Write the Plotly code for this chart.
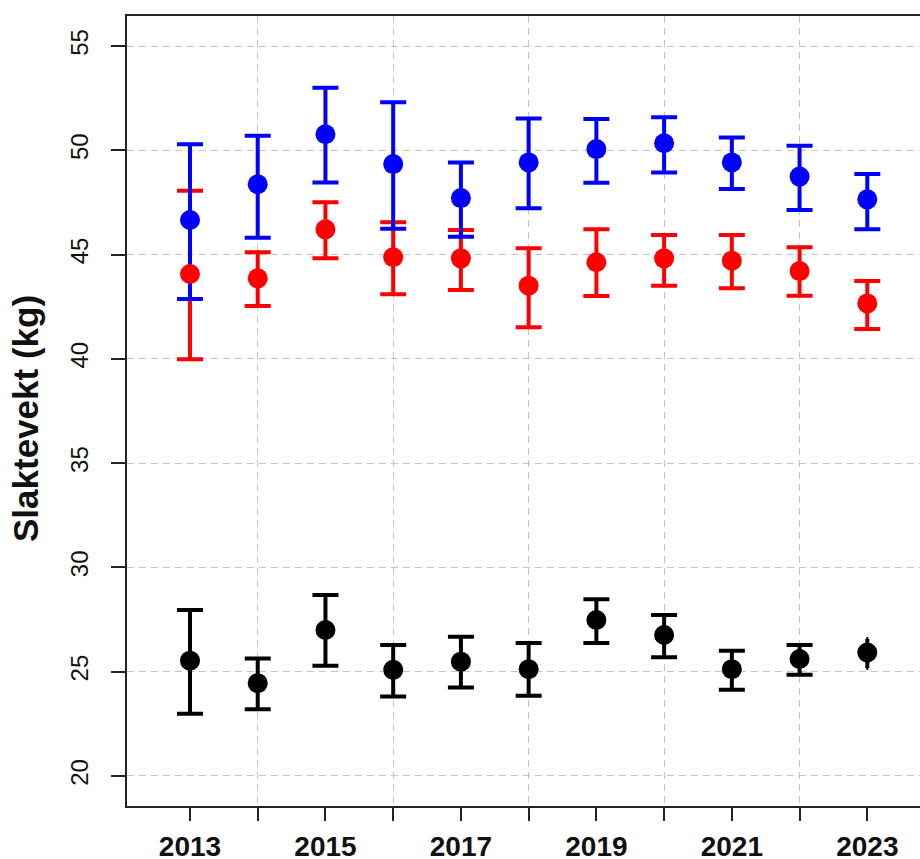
import plotly.graph_objects as go

years = [2013, 2014, 2015, 2016, 2017, 2018, 2019, 2020, 2021, 2022, 2023]

blue_mean = [46.66, 48.37, 50.77, 49.34, 47.71, 49.42, 50.06, 50.34, 49.42, 48.74, 47.65]
blue_hi   = [50.29, 50.70, 53.00, 52.30, 49.42, 51.53, 51.50, 51.58, 50.61, 50.22, 48.86]
blue_lo   = [42.87, 45.81, 48.46, 46.24, 45.86, 47.22, 48.45, 48.94, 48.14, 47.14, 46.21]

red_mean = [44.07, 43.86, 46.21, 44.87, 44.82, 43.51, 44.63, 44.82, 44.71, 44.21, 42.66]
red_hi   = [48.06, 45.11, 47.51, 46.55, 46.18, 45.30, 46.21, 45.94, 45.94, 45.35, 43.73]
red_lo   = [39.98, 42.54, 44.82, 43.10, 43.30, 41.51, 43.02, 43.51, 43.38, 43.03, 41.43]

black_mean = [25.53, 24.45, 27.00, 25.09, 25.48, 25.12, 27.48, 26.76, 25.12, 25.61, 25.92]
black_hi   = [27.96, 25.63, 28.68, 26.28, 26.68, 26.37, 28.47, 27.72, 26.01, 26.28, 26.57]
black_lo   = [22.98, 23.20, 25.28, 23.81, 24.24, 23.85, 26.37, 25.69, 24.13, 24.85, 25.18]

y_ticks = [20, 25, 30, 35, 40, 45, 50, 55]
x_label_years = [2013, 2015, 2017, 2019, 2021, 2023]
grid_years = [2014, 2016, 2018, 2020, 2022]
y_title = "Slaktevekt (kg)"

BLUE = "#0000FF"
RED = "#FF0000"
BLACK = "#000000"

fig = go.Figure()


def err_trace(xs, mean, hi, lo, color, cap):
    return go.Scatter(
        x=xs, y=mean, mode="markers",
        marker=dict(size=1, color=color),
        error_y=dict(type="data", symmetric=False,
                     array=[h - m for h, m in zip(hi, mean)],
                     arrayminus=[m - l for m, l in zip(mean, lo)],
                     color=color, thickness=4, width=cap),
        showlegend=False, hoverinfo="skip")


def pt_trace(xs, mean, color):
    return go.Scatter(x=xs, y=mean, mode="markers",
                      marker=dict(size=20, color=color, line=dict(width=0)),
                      showlegend=False)


# error bars first (red, blue, black), then points
fig.add_trace(err_trace(years, red_mean, red_hi, red_lo, RED, 13))
fig.add_trace(err_trace(years, blue_mean, blue_hi, blue_lo, BLUE, 13))
fig.add_trace(err_trace(years[:-1], black_mean[:-1], black_hi[:-1], black_lo[:-1], BLACK, 13))
fig.add_trace(err_trace(years[-1:], black_mean[-1:], black_hi[-1:], black_lo[-1:], BLACK, 1))

fig.add_trace(pt_trace(years, blue_mean, BLUE))
fig.add_trace(pt_trace(years, red_mean, RED))
fig.add_trace(pt_trace(years, black_mean, BLACK))

GRID = "#c4c4c4"

fig.update_xaxes(
    range=[2012.07, 2023.778],
    automargin=False,
    tickmode="array", tickvals=x_label_years,
    ticktext=[f"<b>{y}</b>" for y in x_label_years],
    ticks="outside", ticklen=13, tickwidth=1.5, tickcolor="#222",
    tickfont=dict(family="Liberation Sans, Arial", size=28, color="#111"),
    showgrid=False, zeroline=False,
    showline=True, linecolor="#222", linewidth=1.5, mirror=True,
    minor=dict(tickmode="array", tickvals=grid_years, ticks="outside",
               ticklen=13, tickwidth=1.5, tickcolor="#222",
               showgrid=True, gridcolor=GRID, griddash="7px,5px", gridwidth=1.2),
    layer="above traces",
    ticklabelstandoff=2,
)

fig.update_yaxes(
    range=[18.56, 56.44],
    automargin=False,
    tickmode="array", tickvals=y_ticks, ticktext=[str(v) for v in y_ticks],
    tickangle=-90,
    ticks="outside", ticklen=14, tickwidth=1.5, tickcolor="#222",
    tickfont=dict(family="Liberation Sans, Arial", size=24, color="#111"),
    showgrid=True, gridcolor=GRID, griddash="7px,5px", gridwidth=1.2,
    zeroline=False,
    showline=True, linecolor="#222", linewidth=1.5, mirror=False,
    layer="above traces",
    ticklabelstandoff=14,
)

W, H = 920, 859
ML, MT, MB = 127, 16, 53
plot_w = W - ML
plot_h = H - MT - MB

fig.add_annotation(
    text=f"<b>{y_title}</b>", textangle=-90,
    xref="paper", yref="paper",
    x=(25 - ML) / plot_w, y=1 - (419 - MT) / plot_h,
    xanchor="center", yanchor="middle", showarrow=False,
    font=dict(family="Liberation Sans, Arial", size=35, color="#111"),
)

fig.update_layout(
    width=W, height=H,
    margin=dict(l=ML, r=0, t=MT, b=MB, pad=0),
    paper_bgcolor="white", plot_bgcolor="white",
    showlegend=False,
)

fig.write_html(
    "out.html",
    config={"displayModeBar": False},
    post_script="document.body.style.margin='0';document.body.style.overflow='hidden';"
                "document.documentElement.style.overflow='hidden';",
)
